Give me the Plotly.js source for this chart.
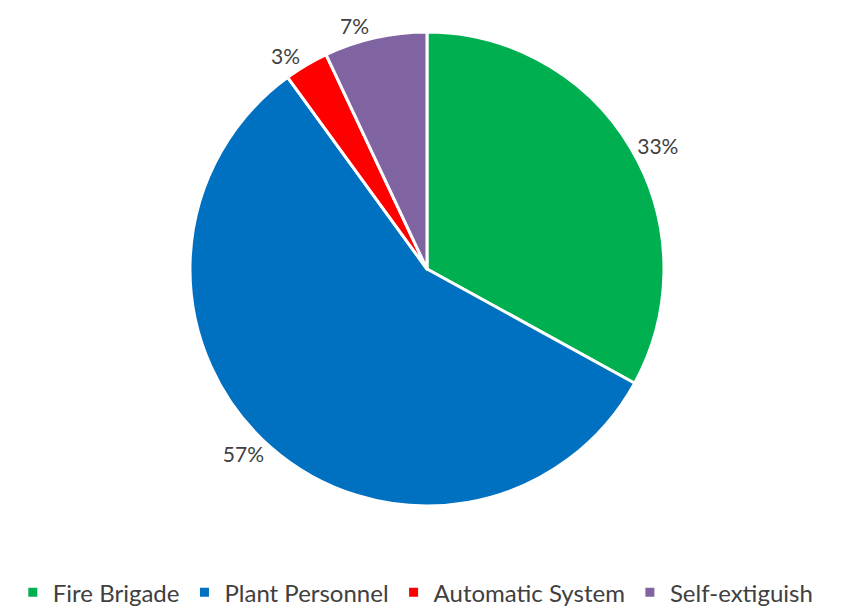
<!DOCTYPE html>
<html><head><meta charset="utf-8">
<script src="https://cdn.plot.ly/plotly-3.0.1.min.js"></script>
<style>html,body{margin:0;padding:0;background:#fff;}#chart{width:855px;height:611px;}</style>
</head><body><div id="chart"></div>
<script>
const categories = ["Fire Brigade", "Plant Personnel", "Automatic System", "Self-extiguish"];
const values = [33, 57, 3, 7];
const colors = ["#00B050", "#0070C0", "#FF0000", "#8064A2"];

const trace = {
  type: "pie",
  labels: categories,
  values: values,
  sort: false,
  direction: "clockwise",
  rotation: 0,
  marker: {colors: colors, line: {color: "#ffffff", width: 3}},
  textinfo: "percent",
  texttemplate: "%{percent:.0%}",
  textposition: "outside",
  outsidetextfont: {family: "Lato, 'Open Sans', sans-serif", size: 21, color: "#404040"},
  automargin: false,
  domain: {x: [0.2222, 0.7766], y: [0.1718, 0.9476]},
  hoverinfo: "none"
};

const layout = {
  width: 855, height: 611,
  margin: {l: 0, r: 0, t: 0, b: 0, autoexpand: false},
  paper_bgcolor: "#ffffff",
  showlegend: true,
  legend: {
    orientation: "h",
    x: 0.015, xanchor: "left",
    y: 0.03, yanchor: "middle",
    font: {family: "Lato, 'Open Sans', sans-serif", size: 24, color: "#404040"},
    traceorder: "normal",
    itemwidth: 30
  },
  font: {family: "Lato, 'Open Sans', sans-serif"}
};

Plotly.newPlot("chart", [trace], layout, {displayModeBar: false, staticPlot: true});
</script>
</body></html>
